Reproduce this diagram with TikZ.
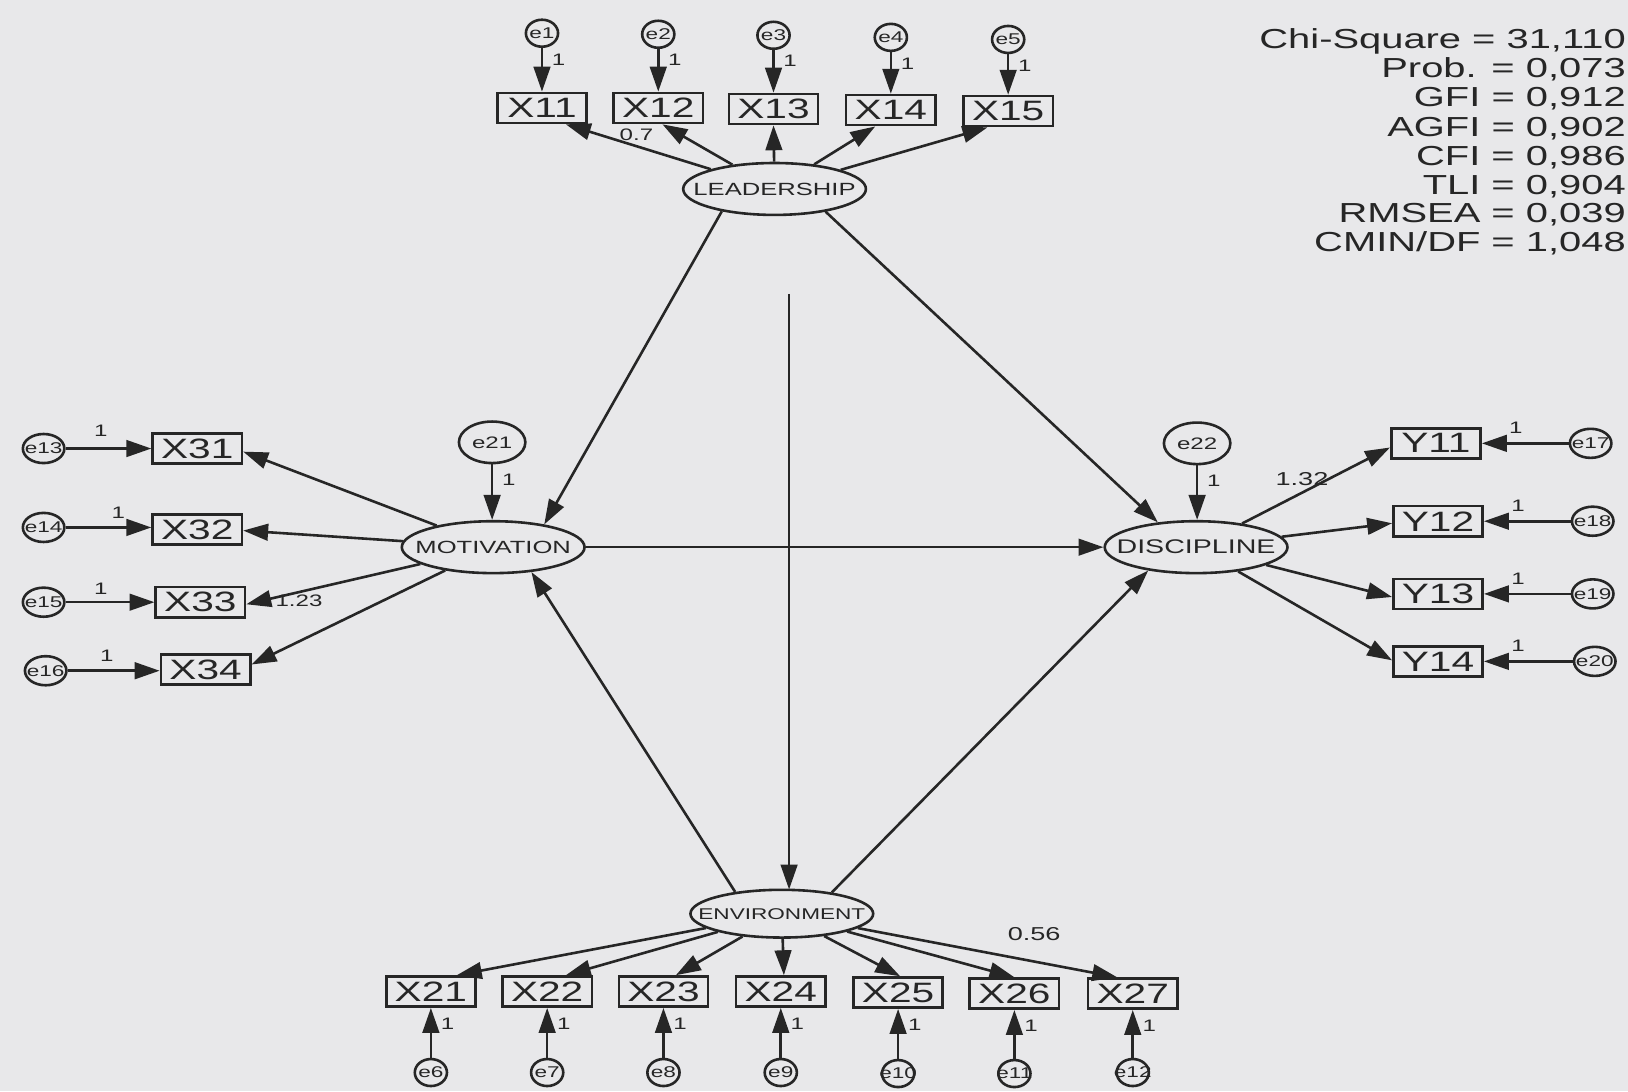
\documentclass[tikz,border=0pt]{standalone}
\usepackage{fontspec}
\setmainfont{Liberation Sans}
\newfontfamily\wf[FakeStretch=1.45]{Liberation Sans}
\usetikzlibrary{arrows.meta,calc,shapes.geometric}
\definecolor{bg}{HTML}{E8E8EA}
\definecolor{ink}{HTML}{262626}
\newcommand\zw[1]{\makebox[0pt]{#1}}
\tikzset{
  obs/.style={draw=ink, line width=2.5pt, minimum width=86pt, minimum height=29pt, inner sep=0pt, text=ink, font=\wf\fontsize{27}{27}\selectfont},
  err/.style={draw=ink, ellipse, line width=2.5pt, minimum width=31pt, minimum height=26pt, inner sep=0pt, text=ink, font=\wf\fontsize{15}{15}\selectfont},
  errw/.style={err, minimum width=40pt, minimum height=28pt},
  errb/.style={err, minimum width=64pt, minimum height=40pt, font=\wf\fontsize{16}{16}\selectfont},
  lat/.style={draw=ink, ellipse, line width=2.5pt, minimum width=176pt, minimum height=50pt, inner sep=0pt, text=ink},
  arr/.style={draw=ink, line width=2.5pt, -{Triangle[length=24pt,width=16pt]}},
  lbl/.style={inner sep=0pt, text=ink, font=\wf\fontsize{16}{16}\selectfont},
  fit/.style={inner sep=0pt, text=ink, anchor=base east, font=\wf\fontsize{26.5}{26.5}\selectfont}
}
\begin{document}
\begin{tikzpicture}[x=1pt,y=-1pt]
\fill[bg] (0,0) rectangle (1568,1051);
\useasboundingbox (0,0) rectangle (1568,1051);

% fit indices
\node[fit] (f1) at (1566,47) {Chi-Square = 31,110};
\node[fit] (f2) at (1566,75) {Prob. = 0,073};
\node[fit] (f3) at (1566,103) {GFI = 0,912};
\node[fit] (f4) at (1566,131) {AGFI = 0,902};
\node[fit] (f5) at (1566,159) {CFI = 0,986};
\node[fit] (f6) at (1566,187) {TLI = 0,904};
\node[fit] (f7) at (1566,214) {RMSEA = 0,039};
\node[fit] (f8) at (1566,242) {CMIN/DF = 1,048};

% latent variables
\node[lat, font=\wf\fontsize{17}{17}\selectfont] (L) at (746,182) {\zw{LEADERSHIP}};
\node[lat, font=\wf\fontsize{17}{17}\selectfont] (M) at (475,527) {\zw{MOTIVATION}};
\node[lat, font=\wf\fontsize{19}{19}\selectfont] (D) at (1152,527) {\zw{DISCIPLINE}};
\node[lat, minimum height=46pt, font=\wf\fontsize{15}{15}\selectfont] (E) at (753,880) {\zw{ENVIRONMENT}};

% top indicators
\node[obs] (X11) at (522,104) {X11};
\node[obs] (X12) at (634,104) {X12};
\node[obs] (X13) at (745,105) {X13};
\node[obs] (X14) at (858,106) {X14};
\node[obs] (X15) at (971,107) {X15};
\node[err] (e1) at (522,32) {\zw{e1}};
\node[err] (e2) at (634,33) {\zw{e2}};
\node[err] (e3) at (745,34) {\zw{e3}};
\node[err] (e4) at (858,36) {\zw{e4}};
\node[err] (e5) at (971,38) {\zw{e5}};
\foreach \i/\x in {1/1,2/2,3/3,4/4,5/5}{\draw[arr] (e\i) -- (X1\x);}
\node[lbl] (t1) at (538,58) {1};
\node[lbl] (t2) at (650,58) {1};
\node[lbl] (t3) at (761,59) {1};
\node[lbl] (t4) at (874,61) {1};
\node[lbl] (t5) at (987,63) {1};
\draw[arr] (L) -- ($(X11.south)+(23,0)$);
\draw[arr] (L) -- ($(X12.south)+(4,0)$);
\draw[arr] (L) -- (X13.south);
\draw[arr] (L) -- ($(X14.south)+(-15,0)$);
\draw[arr] (L) -- ($(X15.south)+(-20,0)$);
\node[lbl] (w07) at (613,130) {0.7};

% left indicators
\node[obs] (X31) at (190,432) {X31};
\node[obs] (X32) at (190,510) {X32};
\node[obs] (X33) at (193,580) {X33};
\node[obs] (X34) at (198,645) {X34};
\node[errw] (e13) at (42,432) {\zw{e13}};
\node[errw] (e14) at (42,508) {\zw{e14}};
\node[errw] (e15) at (42,580) {\zw{e15}};
\node[errw] (e16) at (44,646) {\zw{e16}};
\draw[arr] (e13) -- (e13 -| X31.west);
\draw[arr] (e14) -- (e14 -| X32.west);
\draw[arr] (e15) -- (e15 -| X33.west);
\draw[arr] (e16) -- (e16 -| X34.west);
\node[lbl] (t13) at (97,415) {1};
\node[lbl] (t14) at (114,494) {1};
\node[lbl] (t15) at (97,567) {1};
\node[lbl] (t16) at (103,632) {1};
\draw[arr] (M) -- ($(X31.east)+(0,3)$);
\draw[arr] (M) -- ($(X32.east)+(0,1)$);
\draw[arr] (M) -- ($(X33.east)+(0,2)$);
\draw[arr] (M) -- ($(X34.east)+(0,-5)$);
\node[lbl] (w123) at (288,579) {1.23};

% right indicators
\node[obs] (Y11) at (1383,427) {Y11};
\node[obs] (Y12) at (1385,502) {Y12};
\node[obs] (Y13) at (1385,572) {Y13};
\node[obs] (Y14) at (1385,637) {Y14};
\node[errw] (e17) at (1532,427) {\zw{e17}};
\node[errw] (e18) at (1534,502) {\zw{e18}};
\node[errw] (e19) at (1534,572) {\zw{e19}};
\node[errw] (e20) at (1536,637) {\zw{e20}};
\draw[arr] (e17) -- (e17 -| Y11.east);
\draw[arr] (e18) -- (e18 -| Y12.east);
\draw[arr] (e19) -- (e19 -| Y13.east);
\draw[arr] (e20) -- (e20 -| Y14.east);
\node[lbl] (t17) at (1460,412) {1};
\node[lbl] (t18) at (1462,487) {1};
\node[lbl] (t19) at (1462,557) {1};
\node[lbl] (t20) at (1462,622) {1};
\draw[arr] (D) -- ($(Y11.west)+(0,4)$);
\draw[arr] (D) -- ($(Y12.west)+(0,2)$);
\draw[arr] (D) -- ($(Y13.west)+(0,3)$);
\draw[arr] (D) -- ($(Y14.west)+(0,-1)$);
\node[lbl, font=\wf\fontsize{18}{18}\selectfont] (w132) at (1254,461) {1.32};

% bottom indicators
\node[obs] (X21) at (415,955) {X21};
\node[obs] (X22) at (527,955) {X22};
\node[obs] (X23) at (639,955) {X23};
\node[obs] (X24) at (752,955) {X24};
\node[obs] (X25) at (865,956) {X25};
\node[obs] (X26) at (977,957) {X26};
\node[obs] (X27) at (1091,957) {X27};
\node[err] (e6) at (415,1033) {\zw{e6}};
\node[err] (e7) at (527,1033) {\zw{e7}};
\node[err] (e8) at (639,1033) {\zw{e8}};
\node[err] (e9) at (752,1033) {\zw{e9}};
\node[err] (e10) at (865,1034) {\zw{e10}};
\node[err] (e11) at (977,1034) {\zw{e11}};
\node[err] (e12) at (1091,1033) {\zw{e12}};
\draw[arr] (e6) -- (X21);
\draw[arr] (e7) -- (X22);
\draw[arr] (e8) -- (X23);
\draw[arr] (e9) -- (X24);
\draw[arr] (e10) -- (X25);
\draw[arr] (e11) -- (X26);
\draw[arr] (e12) -- (X27);
\node[lbl] (b6) at (431,986) {1};
\node[lbl] (b7) at (543,986) {1};
\node[lbl] (b8) at (655,986) {1};
\node[lbl] (b9) at (768,986) {1};
\node[lbl] (b10) at (881,987) {1};
\node[lbl] (b11) at (993,988) {1};
\node[lbl] (b12) at (1107,988) {1};
\draw[arr] (E) -- ($(X21.north)+(25,0)$);
\draw[arr] (E) -- ($(X22.north)+(18,0)$);
\draw[arr] (E) -- ($(X23.north)+(12,0)$);
\draw[arr] (E) -- ($(X24.north)+(3,0)$);
\draw[arr] (E) -- ($(X25.north)+(2,0)$);
\draw[arr] (E) -- ($(X26.north)+(0,0)$);
\draw[arr] (E) -- ($(X27.north)+(-15,0)$);
\node[lbl, font=\wf\fontsize{18}{18}\selectfont] (w056) at (996,900) {0.56};

% structural disturbances
\node[errb] (e21) at (474,426) {\zw{e21}};
\node[errb] (e22) at (1153,427) {\zw{e22}};
\draw[arr] (e21) -- (e21 |- M.north);
\draw[arr] (e22) -- (e22 |- D.north);
\node[lbl] (t21) at (490,462) {1};
\node[lbl] (t22) at (1169,463) {1};

% structural paths
\draw[arr] (L.203) -- (M.24);
\draw[arr] (L.336) -- (D.147);
\draw[arr] (M.east) -- (D.west);
\draw[arr] (E.155) -- (M.327);
\draw[arr] (E.23) -- (D.206);
\coordinate (vtop) at (760,283);
\draw[arr] (vtop) -- ($(vtop |- E.north)+(0,1)$);
\end{tikzpicture}
\end{document}
